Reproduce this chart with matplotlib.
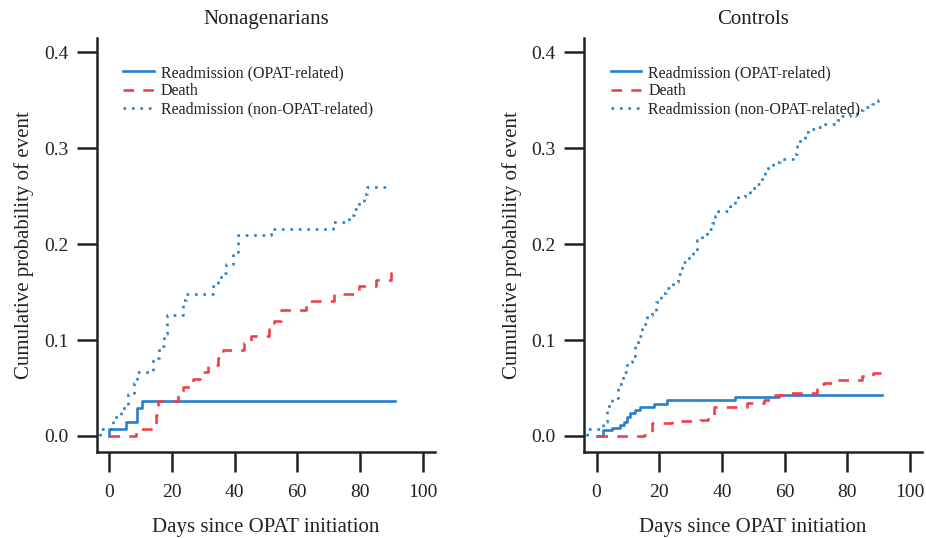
import matplotlib
matplotlib.use("Agg")
import matplotlib.pyplot as plt
import numpy as np

plt.rcParams['font.family'] = ['Liberation Serif', 'DejaVu Serif']

# Nonagenarians
nona_opat_days = [0, 0, 5.3, 9.0, 10.6, 91.2]
nona_opat_prob = [0, 0.0073, 0.0146, 0.0292, 0.0365, 0.0365]

nona_death_days = [0, 8.7, 15.0, 15.6, 21.8, 23.4, 26.6, 29.0, 31.4, 34.6, 36.2, 43.1, 45.2,
                   51.0, 52.7, 54.8, 62.8, 71.8, 79.8, 85.1, 89.9, 91.2]
nona_death_prob = [0, 0.0073, 0.022, 0.0365, 0.0438, 0.0514, 0.0596, 0.0668, 0.074, 0.081, 0.0893,
                   0.097, 0.104, 0.111, 0.120, 0.131, 0.1407, 0.148, 0.156, 0.163, 0.170, 0.170]

nona_other_days = [-3, -3, 1.1, 3.7, 5.9, 8.0, 9.0, 14.1, 15.9, 17.5, 18.4, 23.4, 24.5, 33.0, 34.6,
                   35.6, 37.2, 39.4, 41.2, 51.6, 71.3, 76.6, 78.2, 79.8, 81.4, 82.2, 90.0]
nona_other_prob = [0, 0.0073, 0.020, 0.029, 0.044, 0.055, 0.067, 0.081, 0.094, 0.106, 0.126, 0.142,
                   0.148, 0.156, 0.163, 0.170, 0.179, 0.192, 0.209, 0.216, 0.223, 0.230, 0.237,
                   0.244, 0.2525, 0.260, 0.260]

# Controls
ctrl_opat_days = [0, 2.0, 4.9, 7.6, 8.6, 9.7, 10.8, 12.3, 13.9, 18.2, 22.5, 44.3, 58.1, 91.1]
ctrl_opat_prob = [0, 0.0065, 0.0088, 0.0115, 0.015, 0.020, 0.0236, 0.027, 0.030, 0.033, 0.0375,
                  0.0403, 0.043, 0.043]

ctrl_death_days = [0, 15.0, 17.7, 24.0, 33.0, 35.5, 37.3, 48.0, 53.3, 57.0, 60.8, 70.3, 72.4, 76.2,
                   84.6, 88.3, 90.8]
ctrl_death_prob = [0, 0.0015, 0.0139, 0.0155, 0.017, 0.0205, 0.030, 0.0347, 0.038, 0.0427, 0.0445,
                   0.054, 0.0556, 0.058, 0.062, 0.066, 0.066]

ctrl_other_days = [-3, -3, 2.1, 3.2, 4.8, 6.9, 8.5, 9.6, 11.2, 12.2, 13.3, 14.4, 16.0, 17.6, 19.1,
                   20.7, 22.3, 24.5, 26.1, 27.1, 28.7, 30.9, 31.9, 33.5, 35.1, 36.7, 37.8, 38.8,
                   42.6, 44.1, 45.2, 47.3, 48.9, 51.1, 52.7, 53.7, 54.8, 56.4, 58.5, 62.8, 63.8,
                   64.9, 66.5, 67.6, 70.2, 71.8, 76.6, 78.2, 80.9, 83.0, 85.1, 87.8, 89.9, 90.6]
ctrl_other_prob = [0, 0.007, 0.015, 0.031, 0.040, 0.054, 0.067, 0.0775, 0.083, 0.0936, 0.104, 0.117,
                   0.126, 0.129, 0.140, 0.149, 0.154, 0.160, 0.169, 0.181, 0.186, 0.192, 0.204,
                   0.211, 0.216, 0.222, 0.229, 0.235, 0.240, 0.245, 0.249, 0.2525, 0.258, 0.263,
                   0.270, 0.276, 0.281, 0.286, 0.289, 0.2936, 0.3025, 0.310, 0.317, 0.320, 0.322,
                   0.325, 0.329, 0.333, 0.336, 0.340, 0.343, 0.346, 0.350, 0.350]

series_labels = ['Readmission (OPAT-related)', 'Death', 'Readmission (non-OPAT-related)']
panel_titles = ['Nonagenarians', 'Controls']

blue = '#2680cc'
red = '#f2404a'
ink = '#222222'

fig = plt.figure(figsize=(9.26, 5.38), dpi=100)
ax1 = fig.add_axes([0.1044, 0.1604, 0.3653, 0.7695])
ax2 = fig.add_axes([0.6307, 0.1604, 0.3653, 0.7695])

panels = [
    (ax1, nona_opat_days, nona_opat_prob, nona_death_days, nona_death_prob, nona_other_days, nona_other_prob),
    (ax2, ctrl_opat_days, ctrl_opat_prob, ctrl_death_days, ctrl_death_prob, ctrl_other_days, ctrl_other_prob),
]

for i, (ax, od, op, dd, dp, rd, rp) in enumerate(panels):
    ax.step(od, op, where='post', color=blue, lw=1.9, label=series_labels[0])
    ax.step(dd, dp, where='post', color=red, lw=1.9, ls=(0, (4, 3.5)), label=series_labels[1])
    ax.step(rd, rp, where='post', color=blue, lw=1.9, ls=(0, (1, 2.2)), label=series_labels[2])

    ax.set_xlim(-4.0, 103.9)
    ax.set_ylim(-0.0164, 0.4151)
    ax.set_xticks(np.arange(0, 101, 20))
    ax.set_yticks(np.arange(0, 0.41, 0.1))
    ax.set_yticklabels(['0.0', '0.1', '0.2', '0.3', '0.4'])

    for s in ['top', 'right']:
        ax.spines[s].set_visible(False)
    for s in ['left', 'bottom']:
        ax.spines[s].set_linewidth(1.8)
        ax.spines[s].set_color(ink)
    ax.tick_params(direction='out', length=14.4, width=1.8, labelsize=14,
                   color=ink, labelcolor=ink)
    ax.tick_params(axis='y', pad=6)
    ax.tick_params(axis='x', pad=9)

    ax.set_title(panel_titles[i], fontsize=15, color=ink, pad=10)
    ax.set_xlabel('Days since OPAT initiation', fontsize=15, color=ink, labelpad=12)
    ax.set_ylabel('Cumulative probability of event', fontsize=15, color=ink, labelpad=7)

    ax.legend(loc='upper left', bbox_to_anchor=(0.0786, 0.934), frameon=False, fontsize=11.5,
              handlelength=1.9, handletextpad=0.45, labelspacing=0.15, borderpad=0,
              borderaxespad=0, labelcolor=ink)

fig.savefig('out.png', dpi=100)
